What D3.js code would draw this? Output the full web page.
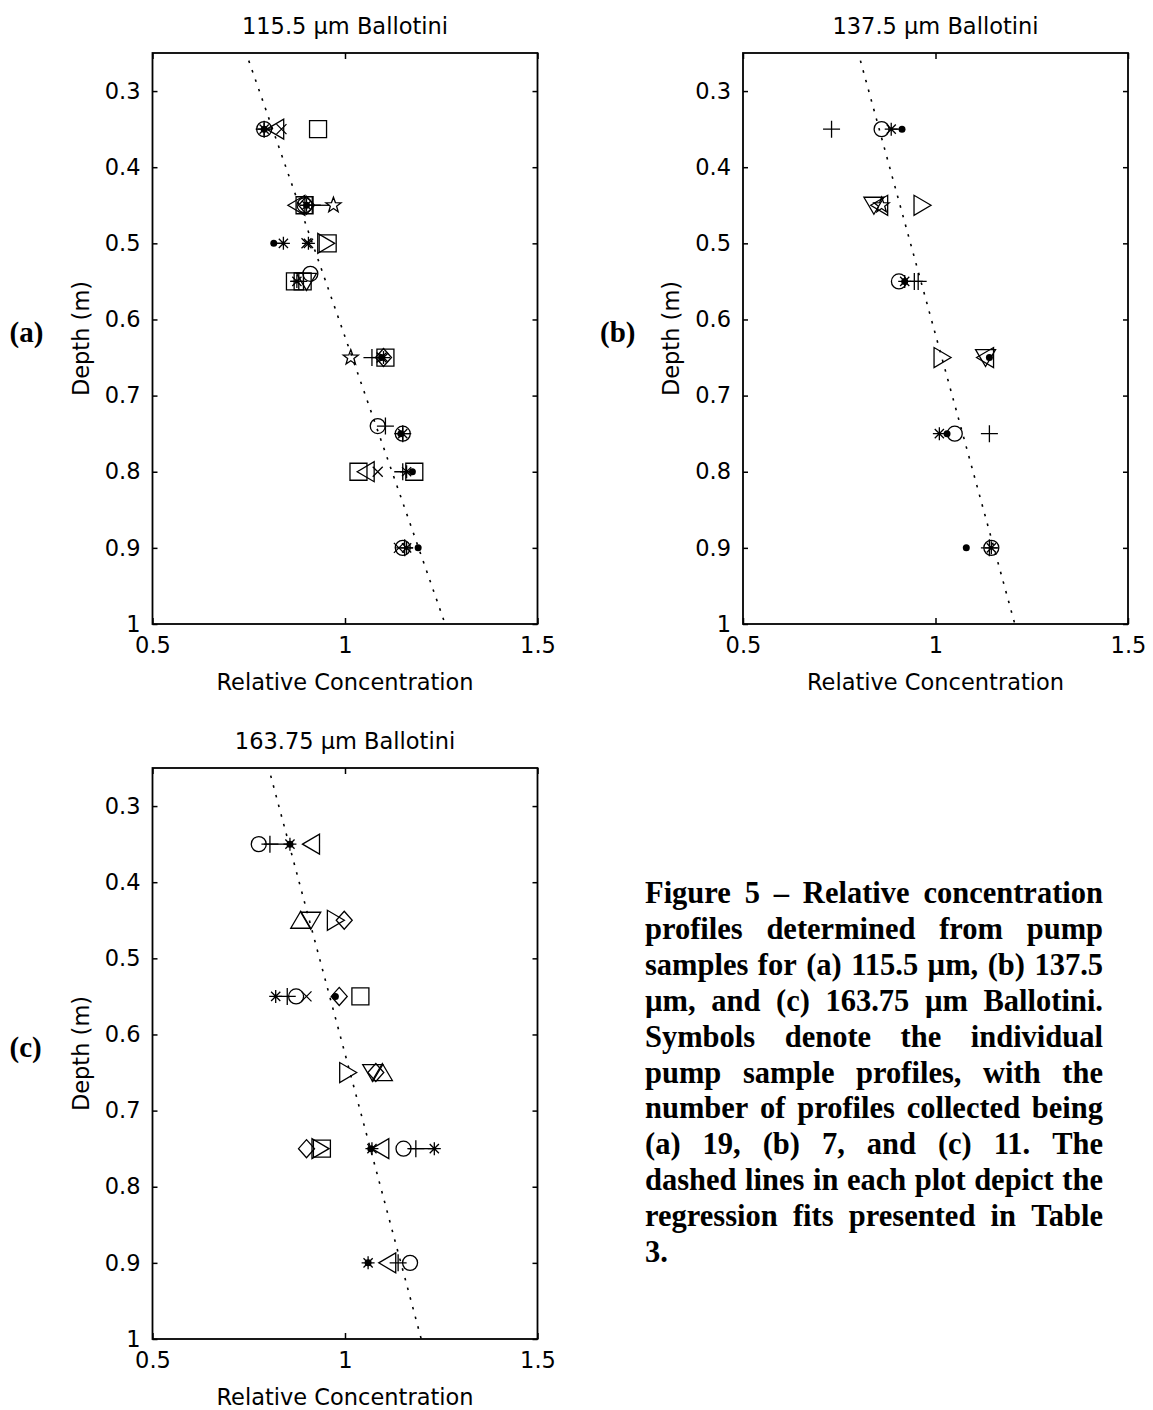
<!DOCTYPE html>
<html>
<head>
<meta charset="utf-8">
<script src="https://cdn.jsdelivr.net/npm/d3@7"></script>
<style>
  body { margin: 0; background: #fff; }
</style>
</head>
<body>
<div id="figure"></div>
<script>
// axis ticks shared by the three panels
var xTicks = [0.5, 1, 1.5];
var yTicks = [0.3, 0.4, 0.5, 0.6, 0.7, 0.8, 0.9, 1];

// (a) 115.5 um - pump sample points (depth m, relative conc, matlab marker)
var aDepth = [0.35, 0.35, 0.35, 0.35, 0.35, 0.35, 0.35,
              0.45, 0.45, 0.45, 0.45, 0.45, 0.45, 0.45, 0.45,
              0.5, 0.5, 0.5, 0.5, 0.5, 0.5,
              0.55, 0.55, 0.55, 0.55, 0.55, 0.54,
              0.65, 0.65, 0.65, 0.65, 0.65, 0.65, 0.65,
              0.74, 0.74, 0.75, 0.75, 0.75, 0.75,
              0.8, 0.8, 0.8, 0.8, 0.8, 0.8, 0.8,
              0.9, 0.9, 0.9, 0.9, 0.9];
var aConc = [0.79, 0.79, 0.79, 0.79, 0.82, 0.835, 0.93,
             0.875, 0.895, 0.9, 0.9, 0.9, 0.895, 0.915, 0.97,
             0.815, 0.84, 0.9, 0.905, 0.95, 0.955,
             0.87, 0.89, 0.88, 0.875, 0.9, 0.91,
             1.015, 1.07, 1.095, 1.1, 1.105, 1.1, 1.095,
             1.085, 1.105, 1.15, 1.15, 1.145, 1.15,
             1.035, 1.055, 1.085, 1.15, 1.16, 1.175, 1.18,
             1.14, 1.15, 1.155, 1.16, 1.19];
var aSym = ['o', '*', '+', '.', '<', 'x', 's',
            '<', 's', 'd', '*', '.', 'o', '+', 'p',
            '.', '*', 'x', '*', '>', 's',
            's', 's', '+', '*', 'v', 'o',
            'p', '+', '.', '*', 's', 'd', 'x',
            'o', '+', 'o', '*', '.', '+',
            's', '<', 'x', '+', '*', '.', 's',
            'x', 'o', '+', '*', '.'];
var aLinkDepth = [0.45, 0.5, 0.65];
var aLinkFrom = [0.9, 0.815, 1.07];
var aLinkTo = [0.96, 0.845, 1.095];
var aFitDepth = [0.26, 1.0];
var aFitConc = [0.75, 1.26];

// (b) 137.5 um
var bDepth = [0.35, 0.35, 0.35, 0.35,
              0.45, 0.45, 0.45, 0.45,
              0.55, 0.55, 0.55, 0.55, 0.55,
              0.65, 0.65, 0.65, 0.65,
              0.75, 0.75, 0.75, 0.75,
              0.9, 0.9, 0.9, 0.9];
var bConc = [0.73, 0.86, 0.885, 0.913,
             0.84, 0.855, 0.86, 0.965,
             0.905, 0.92, 0.92, 0.945, 0.955,
             1.017, 1.13, 1.13, 1.14,
             1.01, 1.03, 1.05, 1.14,
             1.08, 1.145, 1.145, 1.14];
var bSym = ['+', 'o', '*', '.',
            'v', '<', 'p', '>',
            'o', '.', '*', '+', '+',
            '>', '<', 'v', '.',
            '*', '.', 'o', '+',
            '.', 'o', '*', '+'];
var bLinkDepth = [0.35];
var bLinkFrom = [0.885];
var bLinkTo = [0.913];
var bFitDepth = [0.26, 1.0];
var bFitConc = [0.805, 1.206];

// (c) 163.75 um
var cDepth = [0.35, 0.35, 0.35, 0.35, 0.35,
              0.45, 0.45, 0.45, 0.45,
              0.55, 0.55, 0.55, 0.55, 0.55, 0.55, 0.55,
              0.65, 0.65, 0.65, 0.65,
              0.75, 0.75, 0.75, 0.75, 0.75, 0.75, 0.75, 0.75, 0.75,
              0.9, 0.9, 0.9, 0.9, 0.9];
var cConc = [0.776, 0.805, 0.857, 0.857, 0.913,
             0.885, 0.911, 0.975, 0.998,
             0.82, 0.85, 0.873, 0.9, 0.975, 0.985, 1.04,
             1.007, 1.072, 1.08, 1.097,
             0.9, 0.94, 0.935, 1.067, 1.07, 1.093, 1.152, 1.184, 1.232,
             1.06, 1.06, 1.111, 1.138, 1.169];
var cSym = ['o', '+', '*', '.', '<',
            '^', 'v', '>', 'd',
            '*', '+', 'o', 'x', '.', 'd', 's',
            '>', 'v', 'd', '^',
            'd', 's', '>', '.', '*', '<', 'o', '+', '*',
            '*', '.', '<', '+', 'o'];
var cLinkDepth = [0.35, 0.75];
var cLinkFrom = [0.79, 1.165];
var cLinkTo = [0.857, 1.232];
var cFitDepth = [0.26, 1.0];
var cFitConc = [0.807, 1.198];

var captionLines = [
  'Figure 5 \u2013 Relative concentration',
  'profiles determined from pump',
  'samples for (a) 115.5 \u00b5m, (b) 137.5',
  '\u00b5m, and (c) 163.75 \u00b5m Ballotini.',
  'Symbols denote the individual',
  'pump sample profiles, with the',
  'number of profiles collected being',
  '(a) 19, (b) 7, and (c) 11. The',
  'dashed lines in each plot depict the',
  'regression fits presented in Table',
  '3.'
];

var axisFont = 'DejaVu Sans';
var axisFontSize = 22.5;

var panels = [
  {tag: '(a)', title: '115.5 \u03bcm Ballotini', left: 152.5, top: 53, width: 385, height: 571,
   depth: aDepth, conc: aConc, sym: aSym,
   linkDepth: aLinkDepth, linkFrom: aLinkFrom, linkTo: aLinkTo,
   fitDepth: aFitDepth, fitConc: aFitConc},
  {tag: '(b)', title: '137.5 \u03bcm Ballotini', left: 743, top: 53, width: 385, height: 571,
   depth: bDepth, conc: bConc, sym: bSym,
   linkDepth: bLinkDepth, linkFrom: bLinkFrom, linkTo: bLinkTo,
   fitDepth: bFitDepth, fitConc: bFitConc},
  {tag: '(c)', title: '163.75 \u03bcm Ballotini', left: 152.5, top: 768, width: 385, height: 571,
   depth: cDepth, conc: cConc, sym: cSym,
   linkDepth: cLinkDepth, linkFrom: cLinkFrom, linkTo: cLinkTo,
   fitDepth: cFitDepth, fitConc: cFitConc}
];

// marker outlines, roughly matlab's default marker size as scanned
function starPath(points, outer, inner, rot) {
  var p = [];
  for (var i = 0; i < points * 2; i++) {
    var r = i % 2 == 0 ? outer : inner;
    var a = rot + i * Math.PI / points;
    p.push([r * Math.cos(a), r * Math.sin(a)]);
  }
  return 'M' + p.map(function (d) { return d[0].toFixed(2) + ',' + d[1].toFixed(2); }).join('L') + 'Z';
}

function markerPath(s) {
  switch (s) {
    case 'o': return 'M7.5,0A7.5,7.5 0 1,1 -7.5,0A7.5,7.5 0 1,1 7.5,0Z';
    case 's': return 'M-8.5,-8.5H8.5V8.5H-8.5Z';
    case 'd': return 'M0,-9L8,0L0,9L-8,0Z';
    case '^': return 'M0,-9L10,8L-10,8Z';
    case 'v': return 'M0,9L10,-8L-10,-8Z';
    case '>': return 'M9,0L-8,-10L-8,10Z';
    case '<': return 'M-9,0L8,-10L8,10Z';
    case '+': return 'M-8.5,0H8.5M0,-8.5V8.5';
    case 'x': return 'M-5,-5L5,5M-5,5L5,-5';
    case '*': return 'M-6.5,0H6.5M0,-6.5V6.5M-4.6,-4.6L4.6,4.6M-4.6,4.6L4.6,-4.6';
    case 'p': return starPath(5, 8, 3.3, -Math.PI / 2);
    case 'h': return starPath(6, 8, 4.6, -Math.PI / 2);
  }
  return '';
}

document.addEventListener('DOMContentLoaded', function () {
  var svg = d3.select('#figure')
    .append('svg')
    .attr('width', 1153)
    .attr('height', 1410);

  svg.append('rect')
    .attr('width', 1153)
    .attr('height', 1410)
    .attr('fill', '#fff');

  panels.forEach(function (p) { drawPanel(svg, p); });

  drawCaption(svg);
});

function drawPanel(svg, p) {
  var x = d3.scaleLinear().domain([0.5, 1.5]).range([p.left, p.left + p.width]);
  var y = d3.scaleLinear().domain([0.25, 1]).range([p.top, p.top + p.height]);
  var bottom = p.top + p.height;
  var right = p.left + p.width;

  var g = svg.append('g').attr('class', 'panel');

  // axes, ticks pointing inward like matlab
  var fmt = function (d) { return String(d); };
  g.append('g')
    .attr('transform', 'translate(' + p.left + ',0)')
    .call(d3.axisLeft(y).tickValues(yTicks).tickSize(-5).tickPadding(12).tickFormat(fmt));
  g.append('g')
    .attr('transform', 'translate(' + right + ',0)')
    .call(d3.axisRight(y).tickValues(yTicks).tickSize(-5).tickFormat(''));
  g.append('g')
    .attr('transform', 'translate(0,' + bottom + ')')
    .call(d3.axisBottom(x).tickValues(xTicks).tickSize(-6).tickPadding(13).tickFormat(fmt));
  g.append('g')
    .attr('transform', 'translate(0,' + p.top + ')')
    .call(d3.axisTop(x).tickValues(xTicks).tickSize(-6).tickFormat(''));

  g.selectAll('.domain').remove();
  g.selectAll('.tick line').attr('stroke', '#000').attr('stroke-width', 1.5);
  g.selectAll('.tick text')
    .attr('font-family', axisFont)
    .attr('font-size', axisFontSize)
    .attr('fill', '#000');

  g.append('rect')
    .attr('x', p.left)
    .attr('y', p.top)
    .attr('width', p.width)
    .attr('height', p.height)
    .attr('fill', 'none')
    .attr('stroke', '#000')
    .attr('stroke-width', 1.8);

  // regression fit (dotted)
  var fitPts = p.fitDepth.map(function (d, i) { return [p.fitConc[i], d]; });
  g.append('path')
    .attr('d', d3.line().x(function (d) { return x(d[0]); }).y(function (d) { return y(d[1]); })(fitPts))
    .attr('fill', 'none')
    .attr('stroke', '#000')
    .attr('stroke-width', 1.6)
    .attr('stroke-dasharray', '2.5,7.5');

  // short horizontal joins seen between some markers
  g.selectAll('.link')
    .data(p.linkDepth)
    .enter()
    .append('line')
    .attr('class', 'link')
    .attr('x1', function (d, i) { return x(p.linkFrom[i]); })
    .attr('x2', function (d, i) { return x(p.linkTo[i]); })
    .attr('y1', function (d) { return y(d); })
    .attr('y2', function (d) { return y(d); })
    .attr('stroke', '#000')
    .attr('stroke-width', 1.3);

  var pts = p.depth.map(function (d, i) { return {depth: d, conc: p.conc[i], sym: p.sym[i]}; });

  g.selectAll('.marker')
    .data(pts.filter(function (d) { return d.sym != '.'; }))
    .enter()
    .append('path')
    .attr('class', 'marker')
    .attr('transform', function (d) { return 'translate(' + x(d.conc) + ',' + y(d.depth) + ')'; })
    .attr('d', function (d) { return markerPath(d.sym); })
    .attr('fill', 'none')
    .attr('stroke', '#000')
    .attr('stroke-width', 1.3);

  g.selectAll('.dot')
    .data(pts.filter(function (d) { return d.sym == '.'; }))
    .enter()
    .append('circle')
    .attr('class', 'dot')
    .attr('cx', function (d) { return x(d.conc); })
    .attr('cy', function (d) { return y(d.depth); })
    .attr('r', 3.5)
    .attr('fill', '#000');

  // titles and labels
  g.append('text')
    .attr('x', (p.left + right) / 2)
    .attr('y', p.top - 19)
    .attr('text-anchor', 'middle')
    .attr('font-family', axisFont)
    .attr('font-size', axisFontSize)
    .text(p.title);

  g.append('text')
    .attr('x', (p.left + right) / 2)
    .attr('y', bottom + 66)
    .attr('text-anchor', 'middle')
    .attr('font-family', axisFont)
    .attr('font-size', axisFontSize)
    .text('Relative Concentration');

  g.append('text')
    .attr('transform', 'translate(' + (p.left - 64) + ',' + ((p.top + bottom) / 2) + ') rotate(-90)')
    .attr('text-anchor', 'middle')
    .attr('font-family', axisFont)
    .attr('font-size', axisFontSize)
    .text('Depth (m)');

  g.append('text')
    .attr('x', p.left - 143)
    .attr('y', (p.top + bottom) / 2 + 3)
    .attr('font-family', 'Liberation Serif')
    .attr('font-weight', 'bold')
    .attr('font-size', 29)
    .text(p.tag);
}

// justified caption block, one word per text element
function drawCaption(svg) {
  var left = 645;
  var blockWidth = 458;
  var firstBase = 903;
  var lineGap = 35.9;

  var cap = svg.append('g')
    .attr('class', 'caption')
    .attr('font-family', 'Liberation Serif')
    .attr('font-weight', 'bold')
    .attr('font-size', 30.5);

  captionLines.forEach(function (line, li) {
    var words = line.split(' ');
    var yPos = firstBase + li * lineGap;
    var nodes = words.map(function (w) {
      return cap.append('text').attr('y', yPos).text(w);
    });
    var widths = nodes.map(function (n) { return n.node().getComputedTextLength(); });
    var total = d3.sum(widths);
    var last = li == captionLines.length - 1;
    var gap = (!last && words.length > 1) ? (blockWidth - total) / (words.length - 1) : 7;
    var cx = left;
    nodes.forEach(function (n, i) {
      n.attr('x', cx);
      cx += widths[i] + gap;
    });
  });
}
</script>
</body>
</html>
